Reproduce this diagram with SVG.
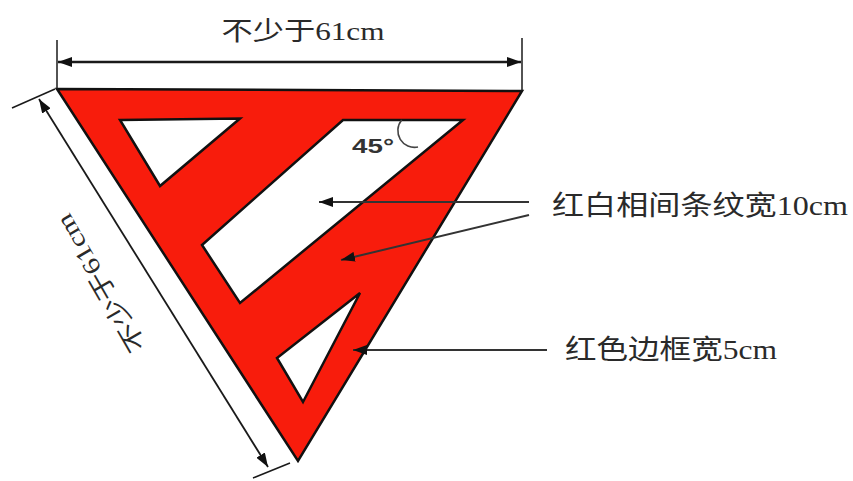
<svg xmlns="http://www.w3.org/2000/svg" width="853" height="481" viewBox="0 0 853 481">
  <style>
    .lbl { font-family: "Liberation Serif", "Noto Sans CJK SC", serif; fill: #2a2a2a; }
    .dim { stroke: #1a1a1a; fill: none; }
    .lead { stroke: #333; stroke-width: 2; fill: none; }
    .red { fill: #f81c0c; stroke: #111; stroke-width: 2.5; stroke-linejoin: miter; }
    .hole { fill: #ffffff; stroke: #111; stroke-width: 2.5; stroke-linejoin: miter; }
  </style>
  <defs>
    <marker id="arr" viewBox="0 0 14 10" refX="14" refY="5" markerWidth="14" markerHeight="10" markerUnits="userSpaceOnUse" orient="auto-start-reverse">
      <path d="M0,0 L14,5 L0,10 z" fill="#111"/>
    </marker>
  </defs>
  <rect width="853" height="481" fill="#ffffff"/>

  <g id="sign">
    <polygon class="red" points="57,89 522,91 298,461"/>
    <polygon class="hole" points="120,120 240,118.5 160,186"/>
    <polygon class="hole" points="343,120 463,120 240,303 202,245"/>
    <polygon class="hole" points="360,293 277,358 303,402"/>
  </g>

  <g id="angle">
    <path d="M401.7,120 A16.7,16.7 0 0 0 418,147" fill="none" stroke="#444" stroke-width="1.6"/>
    <text x="352" y="153" font-family="Liberation Sans, Arial, sans-serif" font-weight="bold" font-size="20" fill="#333" textLength="42" lengthAdjust="spacingAndGlyphs">45°</text>
  </g>

  <g id="dim-top">
    <line class="dim" x1="57" y1="40" x2="57" y2="89" stroke-width="1.5"/>
    <line class="dim" x1="522" y1="38" x2="522" y2="91" stroke-width="1.5"/>
    <line class="dim" x1="58" y1="62" x2="521" y2="62" stroke-width="2.5" marker-start="url(#arr)" marker-end="url(#arr)"/>
    <text class="lbl" x="303" y="40" font-size="26" text-anchor="middle" textLength="163" lengthAdjust="spacingAndGlyphs">不少于61cm</text>
  </g>

  <g id="dim-left">
    <line class="dim" x1="12" y1="108" x2="55" y2="89" stroke-width="1.5"/>
    <line class="dim" x1="253" y1="478" x2="290" y2="463" stroke-width="1.5"/>
    <line class="dim" x1="39" y1="99" x2="268" y2="467" stroke-width="1.8" marker-start="url(#arr)" marker-end="url(#arr)"/>
    <text class="lbl" x="0" y="0" font-size="24" text-anchor="middle" dominant-baseline="central" textLength="155" lengthAdjust="spacingAndGlyphs" transform="translate(101,283) rotate(240)">不少于61cm</text>
  </g>

  <g id="connectors">
    <line class="lead" x1="529" y1="202" x2="319" y2="202" marker-end="url(#arr)"/>
    <line class="lead" x1="529" y1="215" x2="341" y2="260" marker-end="url(#arr)"/>
    <line class="lead" x1="547" y1="350" x2="353" y2="350" marker-end="url(#arr)"/>
  </g>

  <g id="label-stripe">
    <text class="lbl" x="552" y="215" font-size="27" textLength="296" lengthAdjust="spacingAndGlyphs">红白相间条纹宽10cm</text>
  </g>
  <g id="label-border">
    <text class="lbl" x="565" y="359" font-size="27" textLength="212" lengthAdjust="spacingAndGlyphs">红色边框宽5cm</text>
  </g>
</svg>
